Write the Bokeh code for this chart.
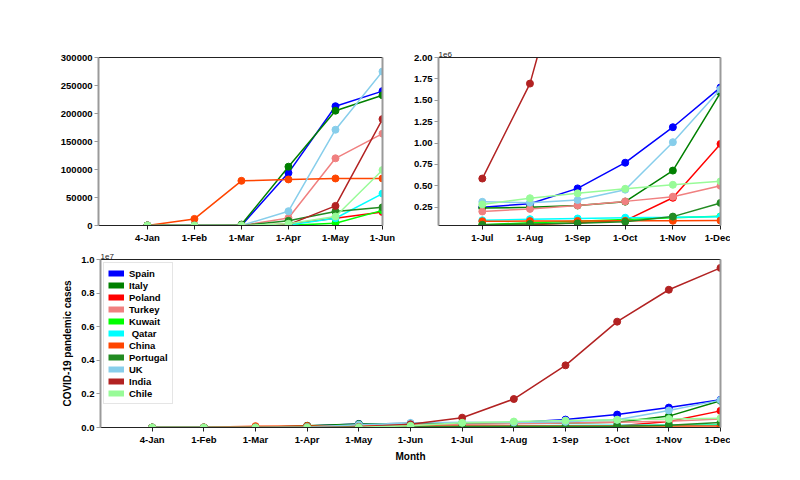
from bokeh.plotting import figure
from bokeh.models import Range1d, FixedTicker, LinearAxis, Legend, LegendItem
from bokeh.layouts import column, row
from bokeh.embed import file_html
from bokeh.resources import INLINE

months = ["4-Jan", "1-Feb", "1-Mar", "1-Apr", "1-May", "1-Jun",
          "1-Jul", "1-Aug", "1-Sep", "1-Oct", "1-Nov", "1-Dec"]

countries = ["Spain", "Italy", "Poland", "Turkey", "Kuwait", " Qatar",
             "China", "Portugal", "UK", "India", "Chile"]

spain = [0, 1, 84, 94000, 213000, 240000, 250000, 290000, 470000, 770000, 1185000, 1650000]
italy = [0, 2, 1700, 105000, 205000, 232500, 240500, 248000, 270000, 315000, 678000, 1590000]
poland = [0, 0, 0, 2500, 13000, 24000, 35000, 46000, 67000, 93000, 360000, 990000]
turkey = [0, 0, 0, 13500, 120000, 164000, 200000, 230000, 271000, 318000, 373000, 500000]
kuwait = [0, 0, 45, 270, 4000, 27000, 46000, 67000, 86000, 106000, 126000, 143000]
qatar = [0, 0, 0, 780, 13000, 57000, 97000, 110000, 118000, 127000, 132000, 139000]
china = [0, 11800, 79800, 82300, 84000, 84000, 85000, 88000, 90000, 90500, 91500, 93000]
portugal = [0, 0, 0, 8300, 25000, 32500, 44000, 54000, 62000, 80000, 140000, 300000]
uk = [0, 0, 36, 25500, 171000, 275000, 313000, 303000, 335000, 455000, 1010000, 1630000]
india = [0, 0, 3, 1600, 35000, 190000, 585000, 1695000, 3700000, 6300000, 8200000, 9500000]
chile = [0, 0, 0, 3000, 16000, 99000, 282000, 355000, 412000, 465000, 512000, 552000]

series = [spain, italy, poland, turkey, kuwait, qatar, china, portugal, uk, india, chile]
colors = ["#0000FF", "#008000", "#FF0000", "#F08080", "#00FF00", "#00FFFF",
          "#FF4500", "#228B22", "#87CEEB", "#B22222", "#98FB98"]

top_left_ticks = [0, 50000, 100000, 150000, 200000, 250000, 300000]
top_right_ticks = [250000, 500000, 750000, 1000000, 1250000, 1500000, 1750000, 2000000]
top_right_labels = ["0.25", "0.50", "0.75", "1.00", "1.25", "1.50", "1.75", "2.00"]
bottom_ticks = [0, 2000000, 4000000, 6000000, 8000000, 10000000]
bottom_labels = ["0.0", "0.2", "0.4", "0.6", "0.8", "1.0"]

FONT = "Liberation Sans"
SIDE = "#9a9a9a"
DARK = "#222222"


def make_fig(fw, fh, xr, yr, borders, offset_text=None):
    l, r, t, b = borders
    p = figure(frame_width=fw, frame_height=fh, x_range=Range1d(*xr), y_range=Range1d(*yr),
               output_backend="svg", toolbar_location=None,
               min_border_left=l, min_border_right=r, min_border_top=t, min_border_bottom=b,
               background_fill_color="white", border_fill_color="white")
    p.outline_line_color = None
    p.xgrid.visible = False
    p.ygrid.visible = False
    xa = p.below[0]
    ya = p.left[0]
    for ax, col, w in ((xa, DARK, 1), (ya, SIDE, 2)):
        ax.axis_line_color = col
        ax.axis_line_width = w
        ax.major_tick_line_color = col
        ax.major_tick_out = 4
        ax.major_tick_in = 0
        ax.minor_tick_out = 0
        ax.minor_tick_in = 0
        ax.major_label_text_font = FONT
        ax.major_label_text_font_style = "bold"
        ax.major_label_text_font_size = "9.5px"
        ax.major_label_text_color = "black"
        ax.major_label_standoff = 2
        ax.axis_label_text_font = FONT
        ax.axis_label_text_font_style = "bold"
        ax.axis_label_text_font_size = "10px"
        ax.axis_label_text_color = "black"
    if offset_text:
        p.title.text = offset_text
        p.title.text_font = FONT
        p.title.text_font_size = "8px"
        p.title.text_font_style = "normal"
        p.title.text_color = "#222222"
        p.title.align = "left"
        p.title.standoff = 1
    for loc, col, w in (("right", SIDE, 2), ("above", DARK, 1)):
        ax = LinearAxis(ticker=FixedTicker(ticks=[]), major_tick_out=0, major_tick_in=0,
                        minor_tick_out=0, minor_tick_in=0,
                        axis_line_color=col, axis_line_width=w, major_label_standoff=0)
        p.add_layout(ax, loc)
    return p, xa, ya


def draw(p, xa, idx):
    for s, c in zip(series, colors):
        xs = list(range(len(idx)))
        ys = [s[i] for i in idx]
        p.line(xs, ys, line_color=c, line_width=1.5)
        p.scatter(xs, ys, size=7, fill_color=c, line_color=c)
    xa.ticker = FixedTicker(ticks=list(range(len(idx))))
    xa.major_label_overrides = {k: months[i] for k, i in enumerate(idx)}


# top-left: Jan - Jun
idx1 = list(range(0, 6))
p1, xa1, ya1 = make_fig(284, 168, (-1.04, 5), (0, 300000), (98, 20, 57, 25))
draw(p1, xa1, idx1)
ya1.ticker = FixedTicker(ticks=top_left_ticks)
ya1.major_label_overrides = {v: str(v) for v in top_left_ticks}

# top-right: Jul - Dec
idx2 = list(range(6, 12))
p2, xa2, ya2 = make_fig(282, 168, (-0.92, 5), (36000, 2000000), (36, 10, 57, 25), "1e6")
draw(p2, xa2, idx2)
ya2.ticker = FixedTicker(ticks=top_right_ticks)
ya2.major_label_overrides = dict(zip(top_right_ticks, top_right_labels))

# bottom: whole year
idx3 = list(range(0, 12))
p3, xa3, ya3 = make_fig(620, 168, (-1, 11), (0, 10000000), (100, 10, 9, 40), "1e7")
draw(p3, xa3, idx3)
ya3.ticker = FixedTicker(ticks=bottom_ticks)
ya3.major_label_overrides = dict(zip(bottom_ticks, bottom_labels))
ya3.axis_label = "COVID-19 pandemic cases"
ya3.axis_label_standoff = 5
xa3.axis_label = "Month"
xa3.axis_label_standoff = 3

items = []
for name, c in zip(countries, colors):
    dr = p3.line([-20, -19], [0, 0], line_color=c, line_width=6, line_cap="butt")
    items.append(LegendItem(label=name, renderers=[dr]))
legend = Legend(items=items, location="top_left")
legend.margin = 3
legend.padding = 4
legend.spacing = 0
legend.glyph_width = 16
legend.glyph_height = 12
legend.label_height = 12
legend.label_standoff = 5
legend.label_text_font = FONT
legend.label_text_font_style = "bold"
legend.label_text_font_size = "9.5px"
legend.label_text_color = "black"
legend.border_line_color = "#cccccc"
legend.border_line_width = 1
legend.background_fill_alpha = 0.85
legend.background_fill_color = "white"
p3.add_layout(legend, "center")

layout = column(row(p1, p2), p3)
open("out.html", "w").write(file_html(layout, INLINE))
